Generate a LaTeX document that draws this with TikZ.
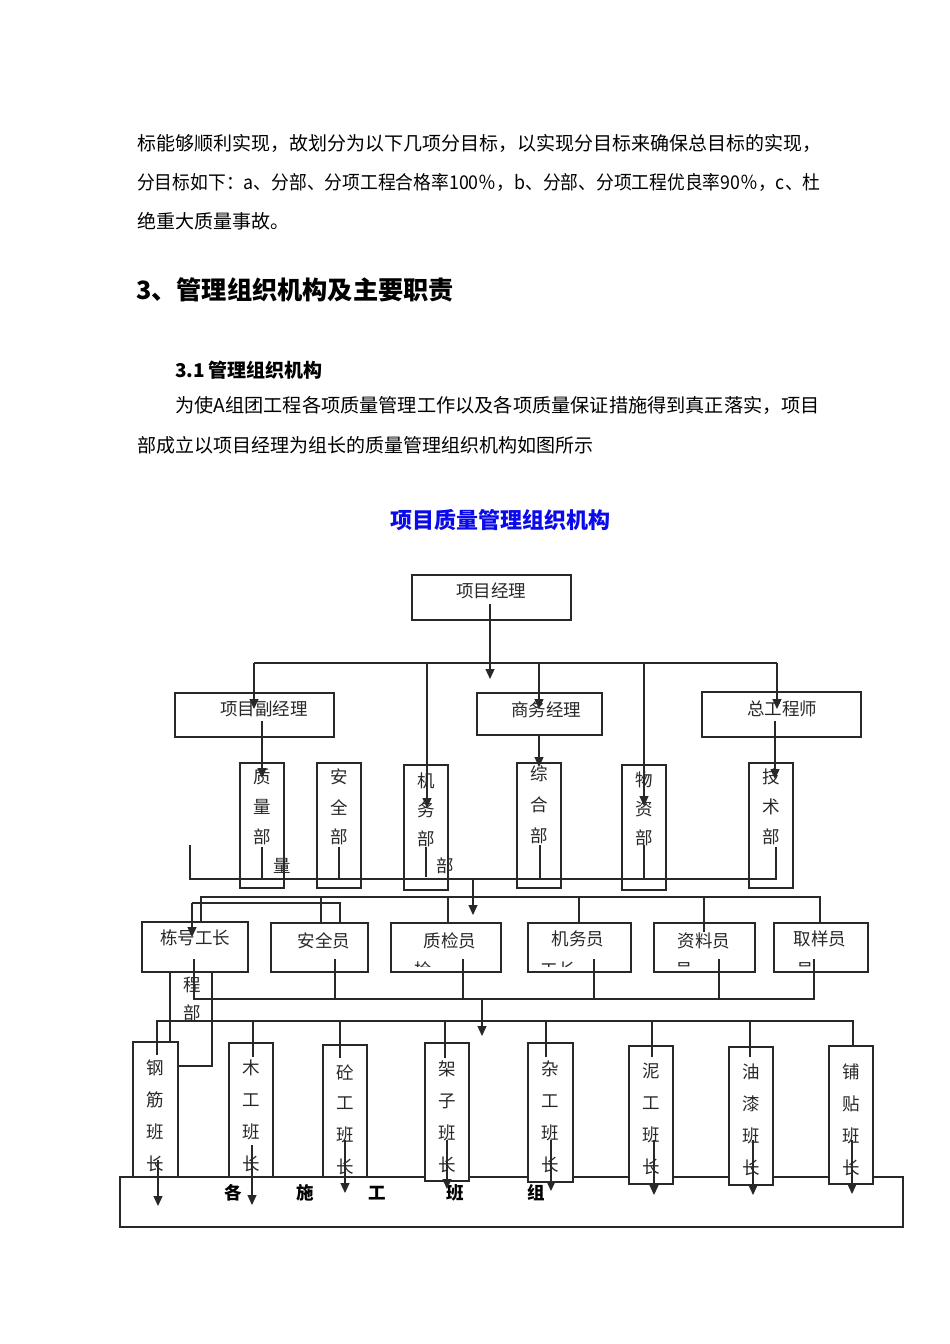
\documentclass[tikz,border=0pt]{standalone}
\usepackage{fontspec}
\setmainfont{Noto Sans CJK SC}
\usetikzlibrary{arrows.meta}
\definecolor{ttlblue}{RGB}{10,10,235}
\definecolor{inkc}{RGB}{40,40,40}
\newcommand\vcolumn[4]{\foreach \cc [count=\ii from 0] in {#4} {\node[ct] at (#1, #2+#3*\ii) {\cc};}}
\begin{document}
\begin{tikzpicture}[x=1pt,y=-1pt,
  bx/.style={draw=inkc,line width=1.3pt,fill=white},
  ln/.style={draw=inkc,line width=1.2pt},
  ar/.style={ln,-{Triangle[length=10pt,width=9pt]}},
  ct/.style={inner sep=0pt,font=\fontsize{17.5}{18}\selectfont,text=inkc},
  bt/.style={inner sep=0pt,anchor=west,font=\fontsize{19}{19}\selectfont}]
\useasboundingbox[fill=white] (0,0) rectangle (950,1344);
% ---------- text of the page ----------
\node[bt] (p1) at (137,143) {标能够顺利实现，故划分为以下几项分目标，以实现分目标来确保总目标的实现，};
\node[bt] (p2) at (137,182) {\scalebox{0.935}[1]{分目标如下：a、分部、分项工程合格率100％，b、分部、分项工程优良率90％，c、杜}};
\node[bt] (p3) at (137,221) {绝重大质量事故。};
\node[bt,font=\fontsize{25.2}{26}\selectfont\bfseries] (h1) at (136,290) {3、管理组织机构及主要职责};
\node[bt,font=\fontsize{19}{19}\selectfont\bfseries] (h2) at (175,370) {3.1\,管理组织机构};
\node[bt] (p4) at (175,405) {\scalebox{1.01}[1]{为使A组团工程各项质量管理工作以及各项质量保证措施得到真正落实，项目}};
\node[bt] (p5) at (137,445) {部成立以项目经理为组长的质量管理组织机构如图所示};
\node[inner sep=0pt,font=\fontsize{22}{22}\selectfont\bfseries,text=ttlblue] (ttl) at (500,520) {项目质量管理组织机构};
% ---------- bottom group box ----------
\draw[bx] (120,1177) rectangle (903,1227);
\foreach \xx/\cc in {233/各,305/施,377/工,455/班,536/组}
  \node[ct,font=\fontsize{17.5}{18}\selectfont\bfseries,text=black] at (\xx,1193) {\cc};
% ---------- level 1 / 2 ----------
\draw[bx] (412,575) rectangle (571,620);
\node[ct] (pm) at (491,591) {项目经理};
\draw[bx] (175,693) rectangle (334,737);
\node[ct] (dpm) at (264,709) {项目副经理};
\draw[bx] (477,693) rectangle (602,735);
\node[ct] (bm) at (546,710) {商务经理};
\draw[bx] (702,692) rectangle (861,737);
\node[ct] (ce) at (782,709) {总工程师};
% ---------- level 3 ----------
\draw[bx] (240,763) rectangle (284,888);
\draw[bx] (317,763) rectangle (361,888);
\draw[bx] (404,765) rectangle (448,890);
\draw[bx] (517,763) rectangle (561,888);
\draw[bx] (622,765) rectangle (666,890);
\draw[bx] (749,763) rectangle (793,888);
\vcolumn{262}{777}{30}{质,量,部}
\vcolumn{339}{777}{30}{安,全,部}
\vcolumn{426}{781}{29}{机,务,部}
\vcolumn{539}{774}{31}{综,合,部}
\vcolumn{644}{780}{29}{物,资,部}
\vcolumn{771}{777}{30}{技,术,部}
\node[ct] (s1) at (282,866) {量};
\node[ct] (s2) at (445,866) {部};
% ---------- level 4 ----------
\draw[bx] (142,922) rectangle (248,972);
\draw[bx] (271,923) rectangle (368,972);
\draw[bx] (391,923) rectangle (501,972);
\draw[bx] (528,923) rectangle (631,972);
\draw[bx] (654,923) rectangle (755,972);
\draw[bx] (774,923) rectangle (868,972);
\node[ct] (g1) at (195,938) {栋号工长};
\node[ct] (g2) at (324,941) {安全员};
\node[ct] (g3) at (450,941) {质检员};
\node[ct] (g4) at (578,939) {机务员};
\node[ct] (g5) at (704,941) {资料员};
\node[ct] (g6) at (820,939) {取样员};
\begin{scope}
  \clip (380,955) rectangle (870,966.5);
  \node[ct] at (423,970) {检};
  \node[ct] at (558,970) {工长};
  \node[ct] at (684,970) {员};
  \node[ct] at (805,970) {员};
\end{scope}
\node[ct] (s3) at (192,985) {程};
\node[ct] (s4) at (192,1013) {部};
% ---------- level 5 ----------
\draw[bx] (133,1042) rectangle (178,1177);
\draw[bx] (229,1043) rectangle (273,1177);
\draw[bx] (323,1045) rectangle (367,1177);
\draw[bx] (425,1043) rectangle (469,1181);
\draw[bx] (528,1043) rectangle (573,1182);
\draw[bx] (629,1046) rectangle (673,1184);
\draw[bx] (729,1047) rectangle (773,1185);
\draw[bx] (829,1046) rectangle (873,1184);
\vcolumn{155}{1068}{32}{钢,筋,班,长}
\vcolumn{251}{1068}{32}{木,工,班,长}
\vcolumn{345}{1072}{31.5}{砼,工,班,长}
\vcolumn{447}{1069}{32}{架,子,班,长}
\vcolumn{550}{1069}{32}{杂,工,班,长}
\vcolumn{651}{1071}{32}{泥,工,班,长}
\vcolumn{751}{1072}{32}{油,漆,班,长}
\vcolumn{851}{1072}{32}{铺,贴,班,长}
% ---------- connectors ----------
\draw[ar] (490,604) -- (490,679);
\draw[ln] (254,663) -- (777,663);
\draw[ar] (254,663) -- (254,709);
\draw[ar] (539,663) -- (539,709);
\draw[ar] (777,663) -- (777,709);
\draw[ar] (427,663) -- (427,808);
\draw[ar] (644,663) -- (644,806);
\draw[ar] (262,721) -- (262,778);
\draw[ar] (539,735) -- (539,767);
\draw[ar] (775,721) -- (775,779);
\draw[ln] (262,847) -- (262,879);
\draw[ln] (339,847) -- (339,879);
\draw[ln] (426,847) -- (426,877);
\draw[ln] (540,845) -- (540,879);
\draw[ln] (644,845) -- (644,879);
\draw[ln] (190,845) -- (190,879) -- (776,879) -- (776,847);
\draw[ar] (473,879) -- (473,915);
\draw[ln] (201,922) -- (201,897) -- (820,897) -- (820,923);
\draw[ln] (321,897) -- (321,923);
\draw[ln] (448,897) -- (448,923);
\draw[ln] (579,897) -- (579,923);
\draw[ln] (704,897) -- (704,932);
\draw[ln] (340,923) -- (340,903) -- (192,903);
\draw[ar] (192,903) -- (192,937);
\draw[ln] (194,959) -- (194,999) -- (814,999) -- (814,959);
\draw[ln] (335,959) -- (335,999);
\draw[ln] (463,959) -- (463,999);
\draw[ln] (594,959) -- (594,999);
\draw[ln] (719,959) -- (719,999);
\draw[ar] (482,999) -- (482,1036);
\draw[ln] (170,972) -- (170,1042);
\draw[ln] (212,972) -- (212,1066) -- (178,1066);
\draw[ln] (157,1055) -- (157,1021) -- (853,1021) -- (853,1046);
\draw[ln] (253,1021) -- (253,1057);
\draw[ln] (340,1021) -- (340,1058);
\draw[ln] (445,1021) -- (445,1058);
\draw[ln] (546,1021) -- (546,1057);
\draw[ln] (652,1021) -- (652,1057);
\draw[ln] (750,1021) -- (750,1057);
\draw[ar] (158,1160) -- (158,1206);
\draw[ar] (252,1145) -- (252,1205);
\draw[ar] (345,1140) -- (345,1193);
\draw[ar] (447,1140) -- (447,1189);
\draw[ar] (551,1140) -- (551,1191);
\draw[ar] (654,1140) -- (654,1195);
\draw[ar] (753,1140) -- (753,1195);
\draw[ar] (852,1140) -- (852,1194);
\end{tikzpicture}
\end{document}
